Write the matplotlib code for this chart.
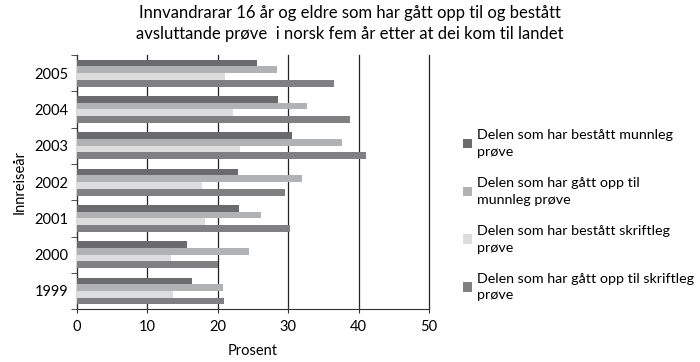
import matplotlib.pyplot as plt
import numpy as np

plt.rcParams['font.family'] = ['Lato', 'DejaVu Sans']

years = ['1999', '2000', '2001', '2002', '2003', '2004', '2005']
bestatt_munnleg = [16.3, 15.6, 23.0, 22.8, 30.6, 28.5, 25.6]
gatt_munnleg = [20.8, 24.4, 26.1, 31.9, 37.6, 32.7, 28.4]
bestatt_skriftleg = [13.7, 13.4, 18.2, 17.8, 23.2, 22.2, 21.0]
gatt_skriftleg = [20.9, 20.0, 30.3, 29.5, 41.1, 38.7, 36.5]

labels = ['Delen som har bestått munnleg\nprøve',
          'Delen som har gått opp til\nmunnleg prøve',
          'Delen som har bestått skriftleg\nprøve',
          'Delen som har gått opp til skriftleg\nprøve']
colors = ['#6b6b6e', '#b1b2b4', '#dddddd', '#808083']
series = [bestatt_munnleg, gatt_munnleg, bestatt_skriftleg, gatt_skriftleg]

fig = plt.figure(figsize=(7, 3.62), dpi=100)
ax = fig.add_axes([0.11, 0.146, 0.503, 0.702])

y = np.arange(len(years))
h = 0.185
offsets = [1.5 * h, 0.5 * h, -0.5 * h, -1.5 * h]
for vals, off, c, lab in zip(series, offsets, colors, labels):
    ax.barh(y + off, vals, height=h, color=c, label=lab, zorder=3)

ax.set_xlim(0, 50)
ax.set_ylim(-0.5, len(years) - 0.5)
ax.set_xticks(range(0, 51, 10))
ax.set_yticks(y)
ax.set_yticklabels(years)
ax.set_yticks(np.arange(-0.5, len(years), 1), minor=True)
ax.tick_params(axis='y', which='major', length=0, labelsize=10.5, pad=6)
ax.tick_params(axis='y', which='minor', length=4, color='#333333')
ax.tick_params(axis='x', direction='inout', length=6, labelsize=10.5, color='#333333', pad=5)
ax.grid(axis='x', color='#222222', linewidth=0.9, zorder=0)
for gl in ax.get_xgridlines():
    gl.set_clip_on(False)
for s in ['top', 'right']:
    ax.spines[s].set_visible(False)
ax.spines['left'].set_color('#333333')
ax.spines['bottom'].set_color('#333333')

ax.set_xlabel('Prosent', fontsize=10.5, labelpad=7)
ax.set_ylabel('Innreiseår', fontsize=10.5, labelpad=6)

fig.suptitle('Innvandrarar 16 år og eldre som har gått opp til og bestått\n'
             'avsluttande prøve  i norsk fem år etter at dei kom til landet',
             fontsize=12, x=0.5, y=0.985, linespacing=1.35)

leg = fig.legend(loc='center left', bbox_to_anchor=(0.643, 0.405), frameon=False,
                 fontsize=10.3, handlelength=0.65, handleheight=0.65,
                 handletextpad=0.3, labelspacing=1.35)
for t in leg.get_texts():
    t.set_linespacing(1.45)

fig.savefig('out.png', dpi=100)
